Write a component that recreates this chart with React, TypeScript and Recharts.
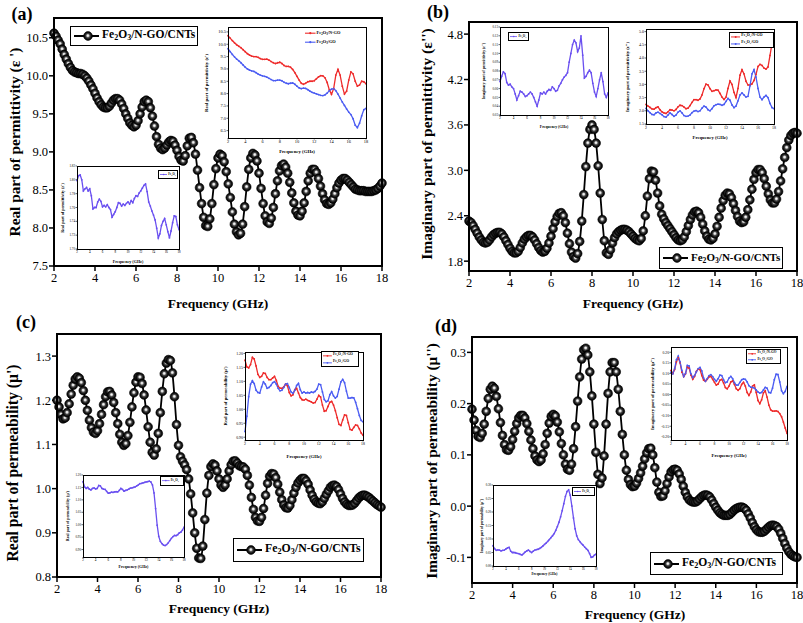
import React from "react";
import { LineChart, Line, XAxis, YAxis } from "recharts";

const FONT = "'Liberation Serif', 'DejaVu Serif', 'Times New Roman', Times, serif";

// frequency grids (GHz)
const mainFreq = Array.from({ length: 161 }, (_, i) => Math.round((2 + i * 0.1) * 10) / 10);
const insetFreq = Array.from({ length: 65 }, (_, i) => 2 + i * 0.25);
const freqTicks = [2, 4, 6, 8, 10, 12, 14, 16, 18];

// ---- main curves: Fe2O3/N-GO/CNTs ----
const epsReal = [
  10.56, 10.52, 10.47, 10.42, 10.35, 10.28, 10.22, 10.16, 10.11, 10.07,
  10.05, 10.04, 10.03, 10.03, 10.02, 10.0, 9.97, 9.93, 9.88, 9.83,
  9.77, 9.71, 9.66, 9.62, 9.59, 9.58, 9.58, 9.6, 9.64, 9.68,
  9.7, 9.7, 9.68, 9.63, 9.57, 9.5, 9.44, 9.38, 9.35, 9.33,
  9.35, 9.41, 9.5, 9.59, 9.66, 9.68, 9.66, 9.58, 9.47, 9.34,
  9.2, 9.1, 9.05, 9.03, 9.05, 9.09, 9.13, 9.15, 9.14, 9.09,
  9.02, 8.94, 8.89, 8.88, 8.95, 9.08, 9.18, 9.19, 9.12, 8.97,
  8.76, 8.53, 8.32, 8.14, 8.03, 8.02, 8.12, 8.32, 8.57, 8.78,
  8.92, 8.97, 8.95, 8.87, 8.74, 8.58, 8.4, 8.21, 8.05, 7.95,
  7.91, 7.93, 8.05, 8.28, 8.54, 8.77, 8.92, 8.98, 8.96, 8.88,
  8.72, 8.52, 8.32, 8.16, 8.08, 8.06, 8.13, 8.27, 8.45, 8.62,
  8.75, 8.82, 8.84, 8.8, 8.72, 8.6, 8.46, 8.33, 8.22, 8.17,
  8.16, 8.22, 8.33, 8.48, 8.62, 8.72, 8.77, 8.77, 8.73, 8.65,
  8.55, 8.45, 8.37, 8.32, 8.31, 8.33, 8.38, 8.45, 8.53, 8.59,
  8.63, 8.65, 8.65, 8.63, 8.6, 8.57, 8.54, 8.51, 8.5, 8.49,
  8.49, 8.49, 8.48, 8.48, 8.48, 8.48, 8.49, 8.5, 8.52, 8.55,
  8.59,
];

const epsImag = [
  2.33, 2.31, 2.27, 2.22, 2.17, 2.12, 2.08, 2.05, 2.04, 2.05,
  2.08, 2.12, 2.15, 2.17, 2.18, 2.18, 2.16, 2.12, 2.07, 2.02,
  1.97, 1.93, 1.91, 1.91, 1.93, 1.98, 2.04, 2.09, 2.12, 2.14,
  2.14, 2.12, 2.08, 2.03, 1.98, 1.94, 1.92, 1.93, 1.97, 2.04,
  2.13, 2.23, 2.32, 2.39, 2.43, 2.44, 2.4, 2.31, 2.17, 2.03,
  1.92, 1.86, 1.84, 1.9, 2.06, 2.33, 2.68, 3.05, 3.36, 3.54,
  3.6, 3.54, 3.36, 3.06, 2.7, 2.35, 2.07, 1.91, 1.89, 1.95,
  2.04, 2.11, 2.16, 2.19, 2.21, 2.22, 2.22, 2.21, 2.19, 2.16,
  2.13, 2.1, 2.08, 2.07, 2.1, 2.2, 2.4, 2.66, 2.89, 2.99,
  2.98, 2.87, 2.7, 2.53, 2.42, 2.36, 2.31, 2.27, 2.23, 2.19,
  2.15, 2.11, 2.08, 2.07, 2.08, 2.12, 2.19, 2.27, 2.35, 2.41,
  2.45, 2.46, 2.44, 2.38, 2.29, 2.2, 2.13, 2.09, 2.08, 2.1,
  2.16, 2.26, 2.38, 2.5, 2.6, 2.67, 2.7, 2.69, 2.64, 2.56,
  2.47, 2.39, 2.33, 2.31, 2.32, 2.38, 2.48, 2.61, 2.75, 2.88,
  2.97, 3.01, 3.01, 2.97, 2.89, 2.79, 2.69, 2.61, 2.57, 2.57,
  2.62, 2.72, 2.86, 3.02, 3.17, 3.3, 3.4, 3.46, 3.49, 3.5,
  3.49,
];

const muReal = [
  1.2, 1.185, 1.168, 1.158, 1.16, 1.172, 1.192, 1.214, 1.234, 1.248,
  1.253, 1.25, 1.24, 1.222, 1.2, 1.177, 1.155, 1.138, 1.128, 1.125,
  1.131, 1.147, 1.168, 1.19, 1.208, 1.219, 1.22, 1.212, 1.195, 1.172,
  1.147, 1.123, 1.105, 1.098, 1.102, 1.12, 1.15, 1.185, 1.217, 1.241,
  1.253, 1.252, 1.238, 1.212, 1.178, 1.14, 1.105, 1.082, 1.076, 1.09,
  1.125, 1.172, 1.22, 1.26, 1.284, 1.292, 1.29, 1.262, 1.208, 1.145,
  1.098, 1.072, 1.062, 1.054, 1.043, 1.022, 0.988, 0.945, 0.9, 0.865,
  0.843, 0.842, 0.87, 0.93, 0.99, 1.03, 1.05, 1.056, 1.053, 1.04,
  1.022, 1.008, 1.003, 1.008, 1.022, 1.04, 1.054, 1.062, 1.063, 1.058,
  1.052, 1.05, 1.049, 1.044, 1.03, 1.008, 0.98, 0.953, 0.935, 0.927,
  0.926, 0.935, 0.955, 0.985, 1.012, 1.028, 1.034, 1.033, 1.025, 1.01,
  0.992, 0.975, 0.963, 0.957, 0.956, 0.962, 0.975, 0.99, 1.003, 1.013,
  1.019, 1.023, 1.023, 1.018, 1.01, 0.997, 0.985, 0.976, 0.97, 0.967,
  0.966, 0.97, 0.978, 0.987, 0.995, 1.003, 1.007, 1.008, 1.005, 0.998,
  0.988, 0.978, 0.97, 0.965, 0.962, 0.962, 0.963, 0.967, 0.973, 0.979,
  0.983, 0.985, 0.985, 0.983, 0.98, 0.976, 0.972, 0.968, 0.964, 0.961,
  0.958,
];

const muImag = [
  0.189, 0.168, 0.148, 0.136, 0.134, 0.142, 0.16, 0.185, 0.21, 0.228,
  0.234, 0.23, 0.214, 0.19, 0.163, 0.138, 0.12, 0.11, 0.109, 0.116,
  0.13, 0.146, 0.161, 0.172, 0.177, 0.177, 0.172, 0.161, 0.146, 0.129,
  0.112, 0.098, 0.09, 0.087, 0.09, 0.102, 0.12, 0.142, 0.162, 0.175,
  0.179, 0.176, 0.164, 0.145, 0.122, 0.1, 0.082, 0.072, 0.07, 0.082,
  0.112, 0.155, 0.205, 0.252, 0.287, 0.305, 0.308, 0.295, 0.262, 0.215,
  0.16, 0.105, 0.062, 0.044, 0.055, 0.098, 0.16, 0.22, 0.262, 0.28,
  0.28, 0.262, 0.228, 0.185, 0.14, 0.1, 0.07, 0.052, 0.042, 0.038,
  0.039, 0.045, 0.054, 0.065, 0.078, 0.092, 0.104, 0.112, 0.113, 0.1,
  0.075, 0.047, 0.027, 0.019, 0.02, 0.03, 0.044, 0.057, 0.067, 0.071,
  0.072, 0.07, 0.063, 0.052, 0.039, 0.027, 0.018, 0.012, 0.009, 0.008,
  0.008, 0.01, 0.014, 0.018, 0.021, 0.022, 0.021, 0.018, 0.012, 0.005,
  -0.002, -0.008, -0.013, -0.016, -0.018, -0.018, -0.018, -0.016, -0.012, -0.008,
  -0.005, -0.003, -0.002, -0.002, -0.004, -0.008, -0.015, -0.023, -0.032, -0.04,
  -0.046, -0.05, -0.051, -0.051, -0.049, -0.045, -0.041, -0.038, -0.037, -0.038,
  -0.04, -0.045, -0.053, -0.063, -0.073, -0.082, -0.089, -0.094, -0.097, -0.099,
  -0.1,
];

// ---- inset curves (0.25 GHz grid) ----
const epsRealNGO = [
  10.35, 10.25, 10.15, 10.06, 9.98, 9.92, 9.86, 9.78,
  9.7, 9.62, 9.56, 9.52, 9.5, 9.5, 9.47, 9.42,
  9.39, 9.39, 9.4, 9.36, 9.3, 9.25, 9.22, 9.25,
  9.27, 9.22, 9.14, 9.1, 9.1, 9.07, 8.98, 8.85,
  8.7, 8.55, 8.42, 8.38, 8.42, 8.48, 8.5, 8.5,
  8.52, 8.6, 8.68, 8.73, 8.72, 8.64, 8.45, 8.15,
  7.97, 8.2, 8.75, 8.98, 8.75, 8.3, 7.98, 8.1,
  8.55, 8.88, 8.8, 8.5, 8.3, 8.35, 8.5, 8.48,
  8.4,
];
const epsRealGO = [
  9.82, 9.7, 9.59, 9.49, 9.4, 9.33, 9.25, 9.16,
  9.07, 9.0, 8.95, 8.92, 8.9, 8.85, 8.79, 8.75,
  8.72, 8.7, 8.67, 8.62, 8.57, 8.53, 8.53, 8.55,
  8.55, 8.52, 8.46, 8.42, 8.4, 8.42, 8.43, 8.38,
  8.3, 8.23, 8.2, 8.22, 8.21, 8.16, 8.1, 8.05,
  8.02, 7.99, 7.96, 7.93, 7.92, 7.95, 8.02, 8.12,
  8.18, 8.2, 8.12, 7.98, 7.82, 7.66, 7.52, 7.38,
  7.25, 7.15, 6.98, 6.72, 6.62, 6.8, 7.1, 7.35,
  7.4,
];
const epsRealFe = [
  1.799, 1.806, 1.807, 1.8, 1.784, 1.787, 1.789, 1.784,
  1.787, 1.777, 1.758, 1.76, 1.76, 1.768, 1.772, 1.769,
  1.761, 1.763, 1.761, 1.764, 1.76, 1.757, 1.746, 1.75,
  1.754, 1.76, 1.767, 1.766, 1.762, 1.765, 1.763, 1.766,
  1.768, 1.765, 1.77, 1.767, 1.773, 1.777, 1.776, 1.781,
  1.784, 1.788, 1.792, 1.794, 1.783, 1.768, 1.762, 1.755,
  1.749, 1.742, 1.73, 1.716, 1.722, 1.734, 1.74, 1.744,
  1.735, 1.725, 1.716, 1.726, 1.738, 1.748, 1.747, 1.735,
  1.728,
];
const epsImagFe = [
  0.068, 0.074, 0.079, 0.077, 0.067, 0.064, 0.065, 0.062,
  0.06, 0.054, 0.047, 0.052, 0.057, 0.056, 0.054, 0.051,
  0.052, 0.054, 0.056, 0.054, 0.05, 0.045, 0.04, 0.047,
  0.055, 0.054, 0.056, 0.054, 0.057, 0.059, 0.058, 0.062,
  0.06, 0.057, 0.058, 0.063, 0.066, 0.07, 0.073, 0.075,
  0.078, 0.09, 0.1, 0.11, 0.115, 0.112, 0.102, 0.106,
  0.12, 0.098, 0.072, 0.074, 0.078, 0.081, 0.078, 0.066,
  0.056, 0.051, 0.06, 0.07, 0.078, 0.068, 0.054, 0.05,
  0.055,
];
const epsImagNGO = [
  2.24, 2.18, 2.13, 2.07, 2.06, 2.12, 2.15, 2.04,
  1.96, 1.92, 1.9, 1.96, 2.04, 2.03, 2.0, 2.05,
  2.15, 2.21, 2.2, 2.14, 2.08, 2.1, 2.2, 2.32,
  2.42, 2.42, 2.4, 2.45, 2.6, 2.84, 3.01, 2.98,
  2.84, 2.74, 2.76, 2.79, 2.78, 2.66, 2.52, 2.43,
  2.52, 2.85, 3.13, 3.0, 2.7, 2.5, 2.85, 3.35,
  3.56, 3.4, 3.12, 2.98, 2.97, 3.02, 3.15, 3.38,
  3.68, 3.76, 3.72, 3.62, 3.58, 3.66, 4.1, 4.55,
  4.9,
];
const epsImagGO = [
  2.09, 2.0, 1.93, 1.86, 1.85, 1.92, 1.95, 1.9,
  1.85, 1.78, 1.76, 1.84, 1.92, 1.86, 1.79, 1.84,
  1.95, 2.0, 1.92, 1.82, 1.79, 1.8, 1.84, 1.93,
  1.99, 2.01, 1.97, 2.0, 2.1, 2.18, 2.14, 2.04,
  2.0, 2.08, 2.19, 2.23, 2.25, 2.24, 2.21, 2.24,
  2.36, 2.47, 2.4, 2.22, 2.12, 2.18, 2.38, 2.6,
  2.68, 2.6, 2.52, 2.55, 2.95, 3.4, 3.56, 3.28,
  2.85, 2.52, 2.42, 2.52, 2.58, 2.5, 2.28, 2.12,
  2.08,
];
const muRealNGO = [
  1.176, 1.152, 1.148, 1.16, 1.186, 1.18, 1.155, 1.125,
  1.114, 1.118, 1.13, 1.128, 1.114, 1.106, 1.106, 1.112,
  1.118, 1.103, 1.082, 1.076, 1.075, 1.08, 1.09, 1.084,
  1.06, 1.048, 1.052, 1.07, 1.075, 1.058, 1.042, 1.034,
  1.033, 1.036, 1.032, 1.029, 1.026, 1.022, 1.024, 1.036,
  1.05, 1.044, 1.015, 0.993, 0.995, 1.01, 1.025, 1.028,
  1.015, 0.995, 0.97, 0.946, 0.942, 0.962, 0.98, 0.978,
  0.952, 0.928, 0.925, 0.935, 0.944, 0.942, 0.93, 0.915,
  0.907,
];
const muRealGO = [
  0.92, 0.975, 1.045, 1.09, 1.102, 1.092, 1.068, 1.06,
  1.058, 1.08, 1.098, 1.09, 1.075, 1.078, 1.085, 1.095,
  1.099, 1.09, 1.075, 1.066, 1.068, 1.078, 1.09, 1.092,
  1.078, 1.062, 1.057, 1.068, 1.085, 1.093, 1.07, 1.058,
  1.062, 1.058, 1.06, 1.058, 1.062, 1.06, 1.064, 1.072,
  1.09, 1.088, 1.062, 1.035, 1.027, 1.03, 1.052, 1.063,
  1.048, 1.04, 1.046, 1.072, 1.098, 1.107, 1.095, 1.065,
  1.04, 1.04, 1.042, 1.041, 1.025, 1.002, 0.978, 0.96,
  0.955,
];
const muRealFe = [
  1.173, 1.152, 1.146, 1.15, 1.143, 1.14, 1.146, 1.148,
  1.144, 1.146, 1.158, 1.156, 1.146, 1.143, 1.142, 1.134,
  1.127, 1.128, 1.131, 1.13, 1.132, 1.133, 1.132, 1.138,
  1.146, 1.142, 1.135, 1.138, 1.14, 1.143, 1.147, 1.148,
  1.15, 1.152, 1.156, 1.16, 1.165, 1.166, 1.168, 1.17,
  1.172, 1.173, 1.175, 1.172, 1.16, 1.128, 1.065, 0.998,
  0.953, 0.933, 0.924, 0.918, 0.916, 0.92, 0.927, 0.936,
  0.945, 0.952, 0.957, 0.956, 0.96, 0.967, 0.97, 0.978,
  0.99,
];
const muImagNGO = [
  0.114, 0.1, 0.118, 0.155, 0.175, 0.15, 0.106, 0.085,
  0.098, 0.13, 0.125, 0.092, 0.072, 0.086, 0.11, 0.12,
  0.118, 0.09, 0.068, 0.063, 0.072, 0.084, 0.086, 0.072,
  0.058, 0.045, 0.05, 0.068, 0.072, 0.055, 0.033, 0.027,
  0.04, 0.06, 0.065, 0.048, 0.028, 0.02, 0.028, 0.048,
  0.058, 0.04, 0.01, -0.004, 0.012, 0.04, 0.046, 0.01,
  -0.028, -0.043, -0.025, 0.008, 0.018, -0.012, -0.05, -0.072,
  -0.078, -0.078, -0.077, -0.08, -0.09, -0.105, -0.13, -0.158,
  -0.184,
];
const muImagGO = [
  0.106, 0.098, 0.122, 0.165, 0.182, 0.155, 0.114, 0.085,
  0.1, 0.138, 0.135, 0.098, 0.08, 0.09, 0.108, 0.122,
  0.128, 0.112, 0.078, 0.063, 0.075, 0.09, 0.094, 0.085,
  0.072, 0.063, 0.075, 0.092, 0.09, 0.07, 0.056, 0.06,
  0.078, 0.086, 0.075, 0.056, 0.045, 0.045, 0.058, 0.07,
  0.074, 0.072, 0.06, 0.042, 0.035, 0.034, 0.03, 0.022,
  0.012, 0.007, 0.01, 0.022, 0.034, 0.03, 0.01, 0.008,
  0.03, 0.07, 0.096, 0.095, 0.06, 0.018, 0.004, 0.015,
  0.039,
];
const muImagFe = [
  0.075, 0.064, 0.058, 0.06, 0.059, 0.056, 0.058, 0.059,
  0.063, 0.067, 0.069, 0.055, 0.05, 0.05, 0.049, 0.047,
  0.046, 0.043, 0.041, 0.046, 0.052, 0.056, 0.059, 0.054,
  0.05, 0.055, 0.059, 0.061, 0.062, 0.065, 0.069, 0.074,
  0.08, 0.085, 0.091, 0.098, 0.105, 0.112, 0.12, 0.132,
  0.146, 0.162, 0.182, 0.205, 0.231, 0.258, 0.276, 0.282,
  0.262, 0.222, 0.178, 0.138, 0.112, 0.098, 0.09, 0.083,
  0.077, 0.07, 0.064, 0.058, 0.046, 0.032, 0.034, 0.04,
  0.044,
];

const RED = "#ee2b2b";
const BLUE = "#4b5cf2";
const PURPLE = "#6a50f0";

const Sub = ({ children }: { children: React.ReactNode }) => (
  <span style={{ fontSize: "0.7em", verticalAlign: "-0.3em" }}>{children}</span>
);

const FeNGOCNT = () => (
  <>Fe<Sub>2</Sub>O<Sub>3</Sub>/N-GO/CNTs</>
);
const FeNGO = () => (
  <>Fe<Sub>2</Sub>O<Sub>3</Sub>/N-GO</>
);
const FeGO = () => (
  <>Fe<Sub>2</Sub>O<Sub>3</Sub>/GO</>
);
const Fe = () => (
  <>Fe<Sub>2</Sub>O<Sub>3</Sub></>
);

function Txt({ x, y, size, rotate, bold = true, children }: any) {
  return (
    <div
      style={{
        position: "absolute",
        left: x,
        top: y,
        transform: `translate(-50%, -50%)${rotate ? " rotate(-90deg)" : ""}`,
        fontFamily: FONT,
        fontWeight: bold ? "bold" : "normal",
        fontSize: size,
        whiteSpace: "nowrap",
        lineHeight: 1,
        color: "#000",
      }}
    >
      {children}
    </div>
  );
}

function Ball({ cx, cy, gid, r = 4.4 }: any) {
  return <circle cx={cx} cy={cy} r={r} fill={`url(#${gid})`} stroke="#000" strokeWidth={0.6} />;
}

function BallGrad({ id }: { id: string }) {
  return (
    <radialGradient id={id} cx="50%" cy="50%" r="50%" fx="48%" fy="44%">
      <stop offset="0%" stopColor="#ffffff" />
      <stop offset="22%" stopColor="#d8d8d8" />
      <stop offset="45%" stopColor="#4a4a4a" />
      <stop offset="75%" stopColor="#111111" />
      <stop offset="100%" stopColor="#000000" />
    </radialGradient>
  );
}

function MainPanel({ id, box, values, domain, ticks, digits }: any) {
  const ya = 34;
  const xa = 22;
  const m = 8;
  const data = mainFreq.map((f, i) => ({ f, v: values[i] }));
  const w = box.r - box.l + ya + 2 * m;
  const h = box.b - box.t + xa + 2 * m;
  const renderBall = (p: any) => {
    if (p.cx == null || p.cy == null) return <g key={p.index} />;
    return <Ball key={p.index} cx={p.cx} cy={p.cy} gid={id} />;
  };
  const tickStyle = { fill: "#000", fontSize: 12.5, fontFamily: FONT };
  return (
    <>
      <div style={{ position: "absolute", left: box.l - ya - m, top: box.t - m }}>
        <LineChart width={w} height={h} data={data} margin={{ top: m, right: m, bottom: m, left: m }}>
          <defs>
            <BallGrad id={id} />
          </defs>
          <XAxis
            dataKey="f"
            type="number"
            domain={[2, 18]}
            ticks={freqTicks}
            interval={0}
            height={xa}
            axisLine={false}
            tickSize={5}
            tickMargin={2}
            tickLine={{ stroke: "#000", strokeWidth: 1.5 }}
            tick={tickStyle}
          />
          <YAxis
            type="number"
            domain={domain}
            ticks={ticks}
            interval={0}
            width={ya}
            axisLine={false}
            tickSize={5}
            tickMargin={1}
            tickFormatter={(v: number) => v.toFixed(digits)}
            tickLine={{ stroke: "#000", strokeWidth: 1.5 }}
            tick={tickStyle}
          />
          <Line
            type="monotone"
            dataKey="v"
            stroke="#000"
            strokeWidth={1.8}
            dot={renderBall}
            activeDot={false}
            isAnimationActive={false}
          />
        </LineChart>
      </div>
      <div
        style={{
          position: "absolute",
          left: box.l - 1,
          top: box.t - 1,
          width: box.r - box.l + 2,
          height: box.b - box.t + 2,
          border: "2px solid #000",
          boxSizing: "border-box",
          pointerEvents: "none",
        }}
      />
    </>
  );
}

function MainLegend({ id, x, y, w, h, fs }: any) {
  return (
    <div
      style={{
        position: "absolute",
        left: x,
        top: y,
        width: w,
        height: h,
        border: "1px solid #000",
        boxSizing: "border-box",
        background: "#fff",
        display: "flex",
        alignItems: "center",
        paddingLeft: 2,
        gap: 2,
        fontFamily: FONT,
        fontWeight: "bold",
        fontSize: fs,
        whiteSpace: "nowrap",
        lineHeight: 1,
      }}
    >
      <svg width={27} height={12} style={{ flex: "none" }}>
        <defs>
          <BallGrad id={id} />
        </defs>
        <line x1={1} y1={6} x2={26} y2={6} stroke="#000" strokeWidth={2} />
        <Ball cx={15} cy={6} gid={id} />
      </svg>
      <span>
        <FeNGOCNT />
      </span>
    </div>
  );
}

function InsetLegend({ x, y, w, h, fs, items, border = true }: any) {
  return (
    <div
      style={{
        position: "absolute",
        left: x,
        top: y,
        width: w,
        height: h,
        border: border ? "0.6px solid #000" : "none",
        boxSizing: "border-box",
        background: border ? "#fff" : "transparent",
        display: "flex",
        flexDirection: "column",
        justifyContent: "space-around",
        paddingLeft: 1,
        fontFamily: FONT,
        fontWeight: "bold",
        fontSize: fs,
        lineHeight: 1,
        whiteSpace: "nowrap",
      }}
    >
      {items.map((it: any, k: number) => (
        <div key={k} style={{ display: "flex", alignItems: "center", gap: 1 }}>
          <svg width={fs * 2.4} height={fs} style={{ flex: "none" }}>
            <line x1={0} y1={fs / 2} x2={fs * 2.4} y2={fs / 2} stroke={it.color} strokeWidth={Math.max(0.8, fs / 4)} />
            <circle cx={fs * 1.2} cy={fs / 2} r={fs / 4} fill={it.color} />
          </svg>
          <span>{it.label}</span>
        </div>
      ))}
    </div>
  );
}

function Inset({ box, series, domain, ticks, digits, fs, tfs, yTitle, yTitleX, xTitleY }: any) {
  const ya = Math.round(fs * 2.4 + 3);
  const xa = Math.round(fs + 4);
  const m = 3;
  const data = insetFreq.map((f, i) => {
    const row: any = { f };
    series.forEach((s: any, k: number) => {
      row["s" + k] = s.values[i];
    });
    return row;
  });
  const w = box.r - box.l + ya + 2 * m;
  const h = box.b - box.t + xa + 2 * m;
  const tickStyle = { fill: "#000", fontSize: fs, fontFamily: FONT };
  return (
    <>
      <div
        style={{
          position: "absolute",
          left: box.l,
          top: box.t,
          width: box.r - box.l,
          height: box.b - box.t,
          background: "#fff",
        }}
      />
      <div style={{ position: "absolute", left: box.l - ya - m, top: box.t - m }}>
        <LineChart width={w} height={h} data={data} margin={{ top: m, right: m, bottom: m, left: m }}>
          <XAxis
            dataKey="f"
            type="number"
            domain={[2, 18]}
            ticks={freqTicks}
            interval={0}
            height={xa}
            axisLine={false}
            tickSize={1.5}
            tickMargin={0.5}
            tickLine={{ stroke: "#000", strokeWidth: 0.6 }}
            tick={tickStyle}
          />
          <YAxis
            type="number"
            domain={domain}
            ticks={ticks}
            interval={0}
            width={ya}
            axisLine={false}
            tickSize={1.5}
            tickMargin={0.5}
            tickFormatter={(v: number) => v.toFixed(digits)}
            tickLine={{ stroke: "#000", strokeWidth: 0.6 }}
            tick={tickStyle}
          />
          {series.map((s: any, k: number) => (
            <Line
              key={k}
              type="linear"
              dataKey={"s" + k}
              stroke={s.color}
              strokeWidth={1.3}
              dot={{ r: 0.9, fill: s.color, stroke: "none" }}
              activeDot={false}
              isAnimationActive={false}
            />
          ))}
        </LineChart>
      </div>
      <div
        style={{
          position: "absolute",
          left: box.l - 0.5,
          top: box.t - 0.5,
          width: box.r - box.l + 1,
          height: box.b - box.t + 1,
          border: "1px solid #000",
          boxSizing: "border-box",
          pointerEvents: "none",
        }}
      />
      <Txt x={yTitleX} y={(box.t + box.b) / 2} size={tfs} rotate>
        {yTitle}
      </Txt>
      <Txt x={(box.l + box.r) / 2} y={xTitleY} size={tfs}>
        Frequency (GHz)
      </Txt>
    </>
  );
}

export default function App() {
  return (
    <div
      style={{
        position: "absolute",
        left: 0,
        top: 0,
        width: 803,
        height: 623,
        background: "#fff",
        overflow: "hidden",
        fontFamily: FONT,
      }}
    >
      {/* (a) real permittivity */}
      <MainPanel
        id="ga"
        box={{ l: 54, t: 18, r: 382, b: 266 }}
        values={epsReal}
        domain={[7.5, 10.76]}
        ticks={[7.5, 8, 8.5, 9, 9.5, 10, 10.5]}
        digits={1}
      />
      <MainLegend id="gla" x={70} y={26} w={128} h={20} fs={11.5} />
      <Inset
        box={{ l: 228, t: 27, r: 366, b: 138 }}
        series={[
          { values: epsRealNGO, color: RED },
          { values: epsRealGO, color: BLUE },
        ]}
        domain={[6.2, 10.7]}
        ticks={[6.5, 7, 7.5, 8, 8.5, 9, 9.5, 10, 10.5]}
        digits={1}
        fs={4.4}
        tfs={4.8}
        yTitle="Real part of permittivity (ε')"
        yTitleX={207}
        xTitleY={152}
      />
      <InsetLegend
        x={304}
        y={29}
        w={46}
        h={18}
        fs={4.4}
        border={false}
        items={[
          { color: RED, label: <FeNGO /> },
          { color: BLUE, label: <FeGO /> },
        ]}
      />
      <Inset
        box={{ l: 77, t: 166, r: 179, b: 249 }}
        series={[{ values: epsRealFe, color: PURPLE }]}
        domain={[1.7, 1.82]}
        ticks={[1.7, 1.72, 1.74, 1.76, 1.78, 1.8, 1.82]}
        digits={2}
        fs={3.2}
        tfs={4.1}
        yTitle="Real part of permittivity (ε')"
        yTitleX={63}
        xTitleY={262}
      />
      <InsetLegend x={158} y={170} w={20} h={9} fs={3} items={[{ color: PURPLE, label: <Fe /> }]} />
      <Txt x={22} y={14} size={18}>(a)</Txt>
      <Txt x={15} y={142} size={15.3} rotate>Real part of permittivity (ε ')</Txt>
      <Txt x={218} y={304} size={13.5}>Frequency (GHz)</Txt>

      {/* (b) imaginary permittivity */}
      <MainPanel
        id="gb"
        box={{ l: 469, t: 22, r: 797, b: 271 }}
        values={epsImag}
        domain={[1.67, 4.96]}
        ticks={[1.8, 2.4, 3.0, 3.6, 4.2, 4.8]}
        digits={1}
      />
      <MainLegend id="glb" x={659} y={247} w={124} h={22} fs={11} />
      <Inset
        box={{ l: 500, t: 27, r: 608, b: 115 }}
        series={[{ values: epsImagFe, color: PURPLE }]}
        domain={[0.03, 0.13]}
        ticks={[0.03, 0.04, 0.05, 0.06, 0.07, 0.08, 0.09, 0.1, 0.11, 0.12, 0.13]}
        digits={2}
        fs={3.2}
        tfs={3.8}
        yTitle="Imaginary part of permittivity (ε'')"
        yTitleX={485}
        xTitleY={128}
      />
      <InsetLegend x={508} y={32} w={21} h={9} fs={3.1} items={[{ color: PURPLE, label: <Fe /> }]} />
      <Inset
        box={{ l: 646, t: 29, r: 774, b: 124 }}
        series={[
          { values: epsImagNGO, color: RED },
          { values: epsImagGO, color: BLUE },
        ]}
        domain={[1.5, 5.1]}
        ticks={[1.5, 2, 2.5, 3, 3.5, 4, 4.5, 5]}
        digits={1}
        fs={4}
        tfs={4.7}
        yTitle="Imaginary part of permittivity (ε'')"
        yTitleX={628}
        xTitleY={138}
      />
      <InsetLegend
        x={729}
        y={32}
        w={45}
        h={16}
        fs={3.9}
        items={[
          { color: RED, label: <FeNGO /> },
          { color: BLUE, label: <FeGO /> },
        ]}
      />
      <Txt x={438} y={12} size={18}>(b)</Txt>
      <Txt x={427} y={144} size={15.5} rotate>Imaginary part of permittivity (ε'')</Txt>
      <Txt x={633} y={304} size={13.5}>Frequency (GHz)</Txt>

      {/* (c) real permeability */}
      <MainPanel
        id="gc"
        box={{ l: 57, t: 334, r: 381, b: 577 }}
        values={muReal}
        domain={[0.8, 1.35]}
        ticks={[0.8, 0.9, 1.0, 1.1, 1.2, 1.3]}
        digits={1}
      />
      <MainLegend id="glc" x={233} y={538} w={131} h={24} fs={11.8} />
      <Inset
        box={{ l: 245, t: 352, r: 363, b: 440 }}
        series={[
          { values: muRealNGO, color: RED },
          { values: muRealGO, color: BLUE },
        ]}
        domain={[0.89, 1.205]}
        ticks={[0.9, 0.95, 1.0, 1.05, 1.1, 1.15, 1.2]}
        digits={2}
        fs={3.9}
        tfs={4.7}
        yTitle="Real part of permeability (μ')"
        yTitleX={226}
        xTitleY={457}
      />
      <InsetLegend
        x={321}
        y={351}
        w={38}
        h={16}
        fs={3.7}
        items={[
          { color: RED, label: <FeNGO /> },
          { color: BLUE, label: <FeGO /> },
        ]}
      />
      <Inset
        box={{ l: 83, t: 475, r: 184, b: 557 }}
        series={[{ values: muRealFe, color: PURPLE }]}
        domain={[0.87, 1.2]}
        ticks={[0.9, 0.95, 1.0, 1.05, 1.1, 1.15, 1.2]}
        digits={2}
        fs={3.2}
        tfs={4}
        yTitle="Real part of permeability (μ')"
        yTitleX={68}
        xTitleY={567}
      />
      <InsetLegend x={160} y={476} w={24} h={10} fs={3.2} items={[{ color: PURPLE, label: <Fe /> }]} />
      <Txt x={26} y={322} size={18}>(c)</Txt>
      <Txt x={13} y={463} size={15.7} rotate>Real part of permeability (μ')</Txt>
      <Txt x={219} y={609} size={13.5}>Frequency (GHz)</Txt>

      {/* (d) imaginary permeability */}
      <MainPanel
        id="gd"
        box={{ l: 472, t: 337, r: 797, b: 583 }}
        values={muImag}
        domain={[-0.15, 0.33]}
        ticks={[-0.1, 0.0, 0.1, 0.2, 0.3]}
        digits={1}
      />
      <MainLegend id="gld" x={650} y={552} w={133} h={23} fs={11.6} />
      <Inset
        box={{ l: 671, t: 347, r: 787, b: 440 }}
        series={[
          { values: muImagNGO, color: RED },
          { values: muImagGO, color: BLUE },
        ]}
        domain={[-0.215, 0.225]}
        ticks={[-0.2, -0.15, -0.1, -0.05, 0, 0.05, 0.1, 0.15, 0.2]}
        digits={2}
        fs={3.7}
        tfs={4.7}
        yTitle="Imaginary part of permeability (μ'')"
        yTitleX={653}
        xTitleY={456}
      />
      <InsetLegend
        x={746}
        y={349}
        w={35}
        h={15}
        fs={3.5}
        items={[
          { color: RED, label: <FeNGO /> },
          { color: BLUE, label: <FeGO /> },
        ]}
      />
      <Inset
        box={{ l: 493, t: 485, r: 596, b: 566 }}
        series={[{ values: muImagFe, color: PURPLE }]}
        domain={[0, 0.3]}
        ticks={[0, 0.05, 0.1, 0.15, 0.2, 0.25, 0.3]}
        digits={2}
        fs={3}
        tfs={3.5}
        yTitle="Imaginary part of permeability (μ'')"
        yTitleX={483}
        xTitleY={575}
      />
      <InsetLegend x={572} y={487} w={23} h={9} fs={3} items={[{ color: PURPLE, label: <Fe /> }]} />
      <Txt x={446} y={326} size={18}>(d)</Txt>
      <Txt x={432} y={461} size={15.3} rotate>Imaginary part of permeability (μ'')</Txt>
      <Txt x={635} y={615} size={13.5}>Frequency (GHz)</Txt>
    </div>
  );
}
